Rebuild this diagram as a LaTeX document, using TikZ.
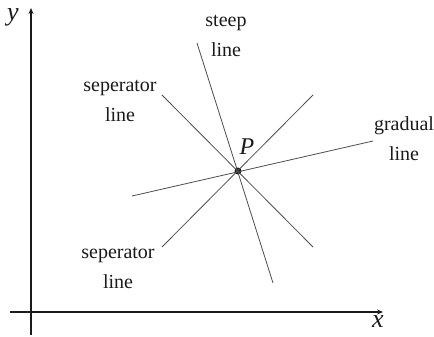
\documentclass[tikz,border=0pt]{standalone}
\usepackage{fontspec}
\setmainfont{Liberation Serif}
\usepackage{tikz}
\usetikzlibrary{arrows.meta,positioning}
\definecolor{ink}{HTML}{1A1A1A}
\definecolor{rule}{HTML}{4D4D4D}
\tikzset{
  axis/.style={-{Stealth[length=6pt,width=5pt]}, draw=ink, line width=1.1pt},
  ray/.style={draw=rule, line width=0.8pt},
  lbl/.style={align=center, inner sep=0pt, font=\fontsize{20}{30}\selectfont, text=ink},
  var/.style={inner sep=0pt, font=\fontsize{26}{26}\selectfont\itshape, text=ink},
  dot/.style={circle, fill=ink, inner sep=0pt, minimum size=7pt}
}
\begin{document}
\begin{tikzpicture}[x=1pt, y=-1pt]
  \useasboundingbox (0,0) rectangle (434,337);
  \coordinate (xs) at (10,312);
  \coordinate (xe) at (383,312);
  \coordinate (ys) at (31,335);
  \coordinate (ye) at (31,8);
  \draw[axis] (xs) -- (xe);
  \draw[axis] (ys) -- (ye);
  \node[var] (ylab) at (13,17) {y};
  \node[var] (xlab) at (378,322) {x};
  \node[dot] (p) at (238,171) {};
  \node[var, font=\fontsize{24}{24}\selectfont\itshape] (plab) at (247,147) {P};
  \coordinate (st1) at (197,43);
  \coordinate (st2) at (273,283);
  \coordinate (gr1) at (132,196);
  \coordinate (gr2) at (373,141);
  \coordinate (sa1) at (162,95);
  \coordinate (sa2) at (313,247);
  \coordinate (sb1) at (162,247);
  \coordinate (sb2) at (313,95);
  \foreach \a/\b in {st1/st2,gr1/gr2,sa1/sa2,sb1/sb2} \draw[ray] (\a) -- (\b);
  \node[lbl] (steep) at (226,36) {steep\\line};
  \node[lbl] (grad) at (404,139) {gradual\\line};
  \node[lbl] (sepa) at (120,101) {seperator\\line};
  \node[lbl] (sepb) at (118,268) {seperator\\line};
\end{tikzpicture}
\end{document}
